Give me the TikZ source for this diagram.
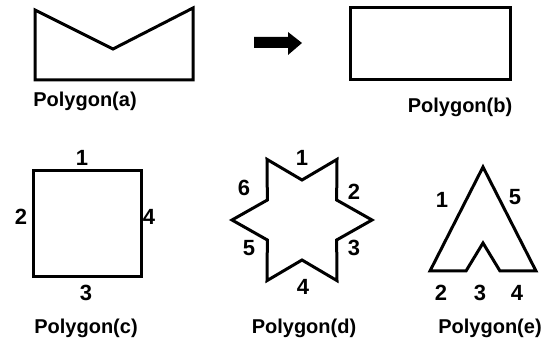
\documentclass[tikz,border=0pt]{standalone}
\usepackage{fontspec}
\setmainfont{Liberation Sans}

\begin{document}
\begin{tikzpicture}[x=1pt, y=-1pt, line width=3pt, line join=miter,
    lbl/.style={font=\bfseries\fontsize{20}{20}\selectfont, inner sep=0pt},
    num/.style={font=\bfseries\fontsize{22}{22}\selectfont, inner sep=0pt}]
    \useasboundingbox (0,0) rectangle (547,350);

    % Polygon (a) and (b)
    \draw (35,10) -- (113,49) -- (193,8) -- (193,80) -- (35,80) -- cycle;
    \node[lbl] (pa) at (85,101) {Polygon(a)};
    \fill (254,37) -- (288,37) -- (288,32) -- (302,43) -- (288,55) -- (288,48) -- (254,48) -- cycle;
    \draw (350,8) rectangle (510,80);
    \node[lbl] (pb) at (460,107) {Polygon(b)};

    % Polygon (c)
    \draw (33,171) rectangle (141,277);
    \node[num] (c1) at (82,158) {1};
    \node[num] (c2) at (21,217) {2};
    \node[num] (c3) at (86,293) {3};
    \node[num] (c4) at (149,217) {4};
    \node[lbl] (pc) at (86,328) {Polygon(c)};

    % Polygon (d)
    \begin{scope}[shift={(302,220)}]
    \draw (120:70) -- (90:40) -- (60:70) -- (30:40) -- (0:70) -- (-30:40)
        -- (-60:70) -- (-90:40) -- (-120:70) -- (-150:40) -- (180:70)
        -- (150:40) -- cycle;
    \end{scope}
    \node[num] (d1) at (302,158) {1};
    \node[num] (d2) at (354,192) {2};
    \node[num] (d3) at (354,248) {3};
    \node[num] (d4) at (303,287) {4};
    \node[num] (d5) at (249,248) {5};
    \node[num] (d6) at (244,188) {6};
    \node[lbl] (pd) at (304,328) {Polygon(d)};

    % Polygon (e)
    \draw (483,167) -- (536,271) -- (500,271) -- (483,243) -- (466,271)
        -- (430,271) -- cycle;
    \node[num] (e1) at (442,200) {1};
    \node[num] (e2) at (441,293) {2};
    \node[num] (e3) at (480,293) {3};
    \node[num] (e4) at (517,293) {4};
    \node[num] (e5) at (515,197) {5};
    \node[lbl] (pe) at (490,328) {Polygon(e)};
\end{tikzpicture}
\end{document}
